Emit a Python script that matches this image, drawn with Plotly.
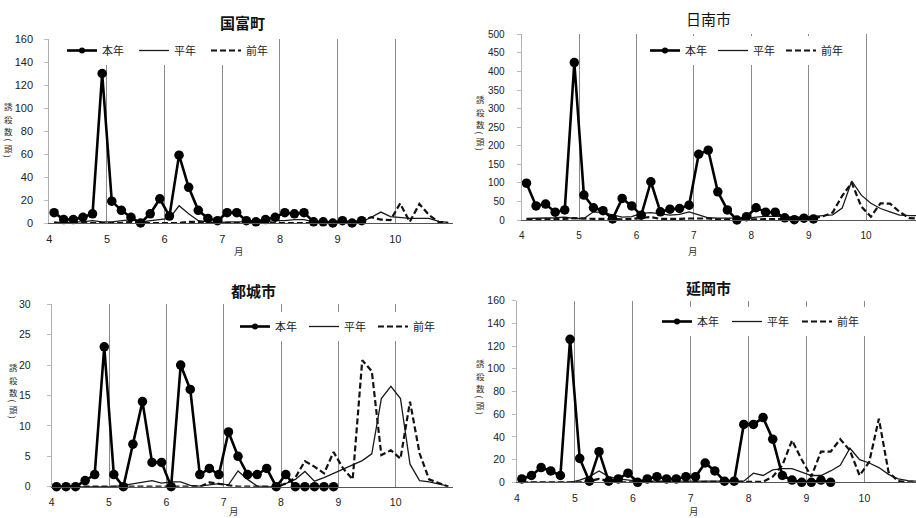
import plotly.graph_objects as go

W, H = 916, 518

# ---------------- data ----------------
periods = list(range(42))          # 半旬 periods, April (4) .. October (10), 6 per month
month_ticks = [4, 5, 6, 7, 8, 9, 10, 11]
month_text = ["4", "5", "6", "7", "8", "9", "10", ""]
series_names = ["本年", "平年", "前年"]
city_names = ["国富町", "日南市", "都城市", "延岡市"]
y_title_chars = ["誘", "殺", "数", "(", "頭", ")"]   # 誘殺数(頭), written vertically
x_title = "月"

kunitomi_hon = [9, 3, 3, 5, 8, 130, 19, 11, 5, 0, 8, 21, 6, 59, 31, 11, 4, 2, 9, 9,
                2, 1, 3, 5, 9, 8, 9, 1, 1, 0, 2, 0, 2]
kunitomi_hei = [1, 0, 1, 1, 2, 1, 1, 2, 3, 1, 2, 3, 4, 15, 8, 2, 1, 0, 1, 1,
                1, 0, 1, 2, 2, 3, 3, 1, 1, 1, 1, 1, 1, 5, 9.5, 5.5, 4.5, 4, 4, 4, 1.5, 0.5]
kunitomi_zen = [0, 0, 0, 0, 0, 0, 0, 0, 1, 1, 0, 0, 0, 0, 1, 1, 0, 0, 0, 0,
                0, 0, 0, 0, 0, 0, 0, 0, 0, 0, 0, 1, 2, 5, 3, 2.5, 17, 1, 16.5, 7, 1, 0]

nichinan_hon = [99, 38, 43, 21, 27, 424, 67, 33, 25, 3, 58, 38, 13, 103, 22, 29, 31, 40, 177, 188,
                76, 27, 0, 9, 33, 21, 21, 6, 1, 5, 3]
nichinan_hei = [4, 4, 5, 6, 8, 4, 4, 22, 20, 15, 8, 9, 18, 20, 16, 13, 15, 22, 14, 6,
                5, 6, 5, 5, 8, 10, 10, 8, 8, 8, 9, 12, 14, 32, 105, 67, 45, 31, 22, 13, 12, 12]
nichinan_zen = [1, 1, 2, 3, 3, 5, 3, 3, 3, 2, 2, 3, 5, 8, 3, 2, 3, 4, 5, 4,
                2, 1, 1, 1, 2, 2, 1, 1, 2, 3, 5, 10, 20, 65, 100, 36, 9, 45, 44, 22, 5, 4]

miyakonojo_hon = [0, 0, 0, 1, 2, 23, 2, 0, 7, 14, 4, 4, 0, 20, 16, 2, 3, 2, 9, 5,
                  2, 2, 3, 0, 2, 0, 0, 0, 0, 0]
miyakonojo_hei = [0, 0, 0, 0, 0, 0, 0, 0.2, 0.5, 0.8, 1.0, 0.6, 0.8, 0.8, 0.2, 0.1, 0.3, 0.5, 0.3, 2.6,
                  1.2, 0.1, 0, 0, 0.5, 1.2, 2.5, 0.9, 1.5, 2.2, 3.0, 3.7, 4.3, 5.4, 14.5, 16.5, 14.5, 3.7, 1.0, 0.8,
                  0.5, 0.1]
miyakonojo_zen = [0, 0, 0, 0, 0, 0, 0, 0, 0, 0, 0, 0, 0, 0, 0, 0, 0.7, 0.5, 0.3, 0,
                  0, 0, 0, 0, 0.5, 1.5, 4.2, 3.3, 2.2, 5.7, 3.0, 1.2, 20.8, 19.0, 5.2, 6.0, 4.6, 14.0, 5.5, 1.2,
                  0.6, 0]

nobeoka_hon = [3, 6, 13, 10, 6, 126, 21, 1, 27, 1, 3, 8, 0, 3, 5, 3, 3, 5, 5, 17,
               10, 1, 1, 51, 51, 57, 38, 6, 2, 0, 0, 2, 0]
nobeoka_hei = [0, 0, 0, 0, 0.5, 0, 2, 5, 10, 5, 3, 2, 1, 1, 1, 1, 1, 1, 1, 1,
               1, 1, 1, 1, 8, 6, 11, 12, 12, 9, 6, 6, 10, 15, 30, 20, 17, 13, 7, 3, 1.5, 1]
nobeoka_zen = [0, 0, 0, 0, 0, 0, 0, 1, 3, 1, 0, 0, 0, 0, 0, 0, 0, 0, 0, 0,
               0, 0, 0, 0, 0, 0.5, 5, 15, 37, 20, 5, 27, 27, 38, 28, 6, 18, 56, 9, 1, 0, 0]

city_series = [
    (kunitomi_hon, kunitomi_hei, kunitomi_zen),
    (nichinan_hon, nichinan_hei, nichinan_zen),
    (miyakonojo_hon, miyakonojo_hei, miyakonojo_zen),
    (nobeoka_hon, nobeoka_hei, nobeoka_zen),
]
y_max = [160, 500, 30, 160]
y_dtick = [20, 50, 5, 20]

# ---------------- layout (pixel geometry of each panel) ----------------
panels = [
    dict(box=(49.3, 453, 39, 223), month_px=57.67, tick_size=11, standoff=9,
         legend=(62, 36), entry=27, title=(243, 22), bold=True,
         ytitle=(8, 100), xtitle=(239, 251)),
    dict(box=(521.7, 916, 34.3, 220), month_px=57.4, tick_size=10, standoff=10,
         legend=(645, 36), entry=23, title=(708, 18), bold=False,
         ytitle=(480, 93), xtitle=(693, 251)),
    dict(box=(51.7, 453, 304.3, 486.7), month_px=57.33, tick_size=10.5, standoff=14,
         legend=(235, 312), entry=24, title=(253, 290), bold=True,
         ytitle=(13, 361), xtitle=(234, 510.5)),
    dict(box=(517, 916, 300.7, 482.3), month_px=57.9, tick_size=10.5, standoff=5,
         legend=(657, 307), entry=25, title=(708, 287), bold=True,
         ytitle=(480, 357), xtitle=(694, 510.5)),
]
# vertical stacking offsets (px below the top of the title) of each character
ytitle_offsets = [6.25, 18.75, 31.25, 39.5, 47.75, 56.0]

CJK = "Noto Sans CJK JP"
LAT = "Liberation Sans, Arial"


def px(x):
    return x / W


def py(y):
    return 1 - y / H


x_vals = [4 + (k + 0.5) / 6 for k in periods]

fig = go.Figure()
annotations = []
layout_axes = {}

for i, (name, series, p) in enumerate(zip(city_names, city_series, panels)):
    n = i + 1
    xa = "x" if n == 1 else f"x{n}"
    ya = "y" if n == 1 else f"y{n}"
    leg = "legend" if n == 1 else f"legend{n}"
    hon, hei, zen = series

    fig.add_trace(go.Scatter(x=x_vals[:len(hei)], y=hei, mode="lines", xaxis=xa, yaxis=ya,
                             line=dict(color="#1a1a1a", width=1.3), showlegend=False))
    fig.add_trace(go.Scatter(x=x_vals[:len(zen)], y=zen, mode="lines", xaxis=xa, yaxis=ya,
                             line=dict(color="#111", width=2.2, dash="6px,3px"), showlegend=False))
    fig.add_trace(go.Scatter(x=x_vals[:len(hon)], y=hon, mode="lines+markers", xaxis=xa, yaxis=ya,
                             line=dict(color="#000", width=2.6),
                             marker=dict(color="#000", size=9.5), cliponaxis=False, showlegend=False))
    # legend entries
    fig.add_trace(go.Scatter(x=[None], y=[None], mode="lines+markers", name=series_names[0],
                             xaxis=xa, yaxis=ya, legend=leg,
                             line=dict(color="#000", width=2.6), marker=dict(color="#000", size=6)))
    fig.add_trace(go.Scatter(x=[None], y=[None], mode="lines", name=series_names[1],
                             xaxis=xa, yaxis=ya, legend=leg,
                             line=dict(color="#1a1a1a", width=1.3)))
    fig.add_trace(go.Scatter(x=[None], y=[None], mode="lines", name=series_names[2],
                             xaxis=xa, yaxis=ya, legend=leg,
                             line=dict(color="#111", width=2.2, dash="6px,3px")))

    l, r, t, b = p["box"]
    xend = 4 + (r - l) / p["month_px"]
    xkey = "xaxis" if n == 1 else f"xaxis{n}"
    ykey = "yaxis" if n == 1 else f"yaxis{n}"
    layout_axes[xkey] = dict(
        domain=[px(l), min(px(r), 1.0)], anchor=ya, range=[4, xend], automargin=False,
        tickmode="array", tickvals=month_ticks, ticktext=month_text,
        showgrid=True, gridcolor="#8a8a8a", gridwidth=1,
        showline=True, linecolor="#555", linewidth=1.2, zeroline=False,
        ticks="", ticklabelstandoff=6,
        tickfont=dict(family=LAT, size=p["tick_size"], color="#222"),
    )
    layout_axes[ykey] = dict(
        domain=[py(b), py(t)], anchor=xa, range=[0, y_max[i]], dtick=y_dtick[i], automargin=False,
        showgrid=False, zeroline=False, showline=True, linecolor="#b0b0b0", linewidth=1,
        ticks="outside", ticklen=4, tickcolor="#bbbbbb", ticklabelstandoff=p["standoff"],
        tickfont=dict(family=LAT, size=p["tick_size"], color="#222"),
    )
    layout_axes[leg] = dict(
        orientation="h", x=px(p["legend"][0]), y=py(p["legend"][1]), xanchor="left", yanchor="top",
        bgcolor="white", borderwidth=0, entrywidth=p["entry"], entrywidthmode="pixels",
        font=dict(family=CJK, size=11, color="#222"),
        itemclick=False, itemdoubleclick=False,
    )

    title_text = f"<b>{name}</b>" if p["bold"] else name
    annotations.append(dict(text=title_text, x=px(p["title"][0]), y=py(p["title"][1]),
                            xref="paper", yref="paper", showarrow=False,
                            xanchor="center", yanchor="middle",
                            font=dict(family=CJK, size=15, color="#111")))
    tx, ty = p["ytitle"]
    for ch, off in zip(y_title_chars, ytitle_offsets):
        annotations.append(dict(text=ch, x=px(tx), y=py(ty + off), xref="paper", yref="paper",
                                showarrow=False, textangle=90 if ch in "()" else 0,
                                xanchor="center", yanchor="middle", borderpad=0,
                                font=dict(family=CJK, size=8.5, color="#333")))
    annotations.append(dict(text=x_title, x=px(p["xtitle"][0]), y=py(p["xtitle"][1]),
                            xref="paper", yref="paper", showarrow=False,
                            xanchor="center", yanchor="middle", borderpad=0,
                            font=dict(family=CJK, size=9.5, color="#333")))

fig.update_layout(
    width=W, height=H, autosize=False,
    margin=dict(l=0, r=0, t=0, b=0, pad=0),
    paper_bgcolor="white", plot_bgcolor="white",
    annotations=annotations,
    **layout_axes,
)

fig.write_html("out.html",
               config={"displayModeBar": False},
               post_script="document.body.style.margin='0';document.body.style.overflow='hidden';")
